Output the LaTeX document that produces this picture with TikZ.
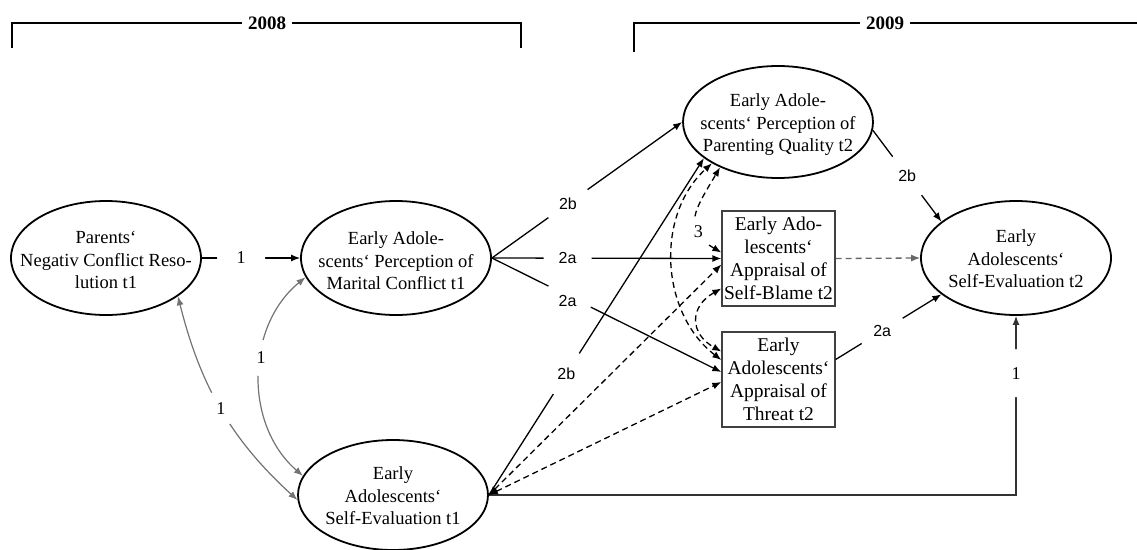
\documentclass[tikz,border=0pt]{standalone}
\usepackage{fontspec}
\setmainfont{Liberation Serif}
\newfontfamily\lsans{Liberation Sans}
\usetikzlibrary{shapes.geometric,arrows.meta}
\begin{document}
\begin{tikzpicture}[x=1pt,y=-1pt,
  >={Latex[length=9pt,width=7pt]},
  ell/.style={draw, ellipse, line width=1.8pt, minimum width=190pt, minimum height=114pt, inner sep=0pt},
  etxt/.style={align=center, inner sep=0pt, font=\fontsize{18.5}{22.5}\selectfont},
  mbox/.style={draw=black!75, line width=1.3pt, minimum width=113pt, minimum height=95pt, inner sep=0pt, align=center, font=\fontsize{19.5}{23}\selectfont},
  sarr/.style={line width=1.3pt, ->},
  garr/.style={draw=black!55, line width=1.2pt, <->},
  darr/.style={line width=1.3pt, dash pattern=on 6pt off 4pt, ->},
  ddarr/.style={line width=1.3pt, dash pattern=on 6pt off 4pt, <->},
  lbla/.style={fill=white, circle, inner sep=0pt, minimum size=48pt, font=\lsans\fontsize{16}{16}\selectfont},
  lbl1/.style={fill=white, circle, inner sep=0pt, minimum size=48pt, font=\fontsize{18}{18}\selectfont},
  lblc/.style={fill=white, circle, inner sep=0pt, minimum size=36pt, font=\fontsize{18}{18}\selectfont},
  lblt/.style={fill=white, circle, inner sep=0pt, minimum size=30pt, font=\fontsize{18}{18}\selectfont},
  yr/.style={fill=white, inner xsep=6pt, inner ysep=2pt, font=\bfseries\fontsize{19}{19}\selectfont},
  brk/.style={line width=2.4pt}
]
\useasboundingbox (0,0) rectangle (1137,549);
% year brackets
\coordinate (b1l) at (12,48);
\coordinate (b1tl) at (12,23);
\coordinate (b1tr) at (521,23);
\coordinate (b1r) at (521,48);
\coordinate (b2l) at (634,52);
\coordinate (b2tl) at (634,23);
\coordinate (b2tr) at (1137,23);
\draw[brk] (b1l) -- (b1tl) -- (b1tr) -- (b1r);
\draw[brk] (b2l) -- (b2tl) -- (b2tr);
\node[yr] (y08) at (267,23) {2008};
\node[yr] (y09) at (885,23) {2009};
% constructs
\node[ell] (par) at (106,258) {};
\node[etxt] (part) at (106,260) {Parents‘\\Negativ Conflict Reso-\\lution t1};
\node[ell] (mar) at (396,258) {};
\node[etxt] (mart) at (396,261) {Early Adole-\\scents‘ Perception of\\Marital Conflict t1};
\node[ell, minimum height=110pt] (se1) at (393,495) {};
\node[etxt] (se1t) at (393,496) {Early\\Adolescents‘\\Self-Evaluation t1};
\node[ell, minimum height=112pt] (p2) at (778,122) {};
\node[etxt] (p2t) at (778,125) {Early Adole-\\scents‘ Perception of\\Parenting Quality t2};
\node[mbox] (sb) at (778.5,258.5) {Early Ado-\\lescents‘\\Appraisal of\\Self-Blame t2};
\node[mbox] (th) at (778.5,379.5) {Early\\Adolescents‘\\Appraisal of\\Threat t2};
\node[ell] (se2) at (1016,258) {};
\node[etxt] (se2t) at (1016,259) {Early\\Adolescents‘\\Self-Evaluation t2};
% paths
\draw[sarr] (par.east) -- node[lbl1, pos=0.4]{1} (mar.west);
\draw[garr] (par.-28) .. controls +(22,88) and +(-67,-61) .. node[lblc, pos=0.5]{1} (se1.183);
\draw[garr] (mar.192) .. controls +(-60,49) and +(-59,-51) .. node[lblc, pos=0.42]{1} (se1.168);
\draw[sarr] (mar.east) -- node[lbla, pos=0.4]{2b} (p2.west);
\draw[sarr] (mar.east) -- node[lbla, pos=0.33]{2a} (sb.west);
\draw[sarr] (mar.east) -- node[lbla, pos=0.33, yshift=-5pt]{2a} ([yshift=7.5pt]th.west);
\draw[sarr] (p2.-5) -- node[lbla, pos=0.5]{2b} (se2.154);
\draw[darr, draw=black!60] (sb.east) -- (se2.west);
\draw[sarr] ([yshift=20pt]th.east) -- node[lbla, pos=0.44]{2a} (se2.206);
\draw[sarr, draw=black!80] (se1.east) -| node[lbl1, pos=0.84]{1} (se2.south);
\draw[sarr] (se1.east) -- node[lbla, pos=0.36]{2b} (p2.206);
\draw[ddarr] (se1.east) -- ([yshift=-6pt]sb.west);
\draw[ddarr] (se1.east) -- ([yshift=-2.5pt]th.west);
\draw[ddarr] ([yshift=6pt]sb.west) .. controls +(-41,-24) and +(-24,41) .. node[lblt, pos=0.3]{3} (p2.218);
\draw[ddarr] ([yshift=19.5pt]th.west) .. controls +(-61,-47) and +(-57,52) .. (p2.212);
\draw[ddarr] ([yshift=-30pt]sb.west) .. controls +(-32,18) and +(-32,-18) .. ([yshift=28pt]th.west);
\end{tikzpicture}
\end{document}
